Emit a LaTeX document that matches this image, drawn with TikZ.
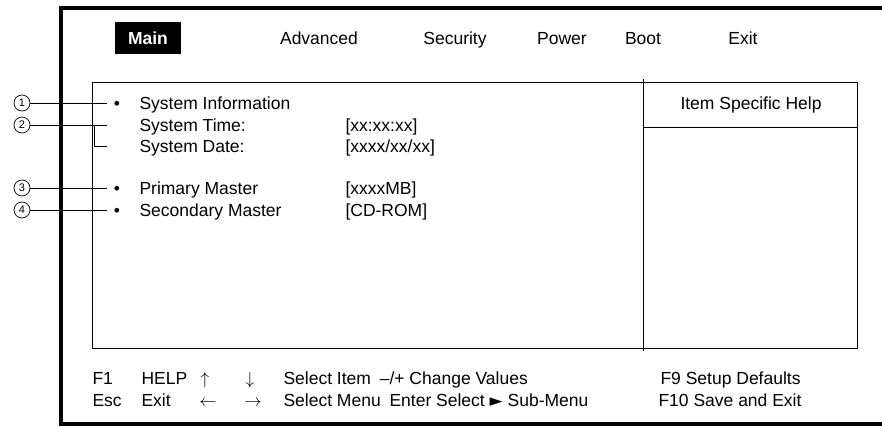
\documentclass[tikz,border=0pt]{standalone}
\usepackage{fontspec}
\setmainfont{Liberation Sans}
\newfontfamily\symfont{DejaVu Sans}

\begin{document}
\begin{tikzpicture}[x=1pt,y=-1pt,-,thick,line width=1pt,
  txt/.style={anchor=base west,inner sep=0pt,font=\fontsize{17.5}{20}\selectfont},
  ctxt/.style={anchor=base,inner sep=0pt,font=\fontsize{17.5}{20}\selectfont},
  num node/.style={circle,draw,line width=0.7pt,inner sep=0pt,minimum size=16pt,font=\fontsize{11}{11}\selectfont}]

    \useasboundingbox (0,0) rectangle (882,426);

    % frame and windows
    \draw[line width=3.2pt] (882,8) -- (61,8) -- (61,424) -- (882,424);
    \draw (92,82) rectangle (857,348);
    \draw (643,79) -- (643,351);
    \draw (643,127) -- (857,127);

    % menu bar
    \node[fill=black,minimum width=66pt,minimum height=32pt,inner sep=0pt] (main) at (148,38) {};
    \node[ctxt,text=white,font=\fontsize{17.5}{20}\selectfont\bfseries] (mainlbl) at (148,44) {Main};
    \node[ctxt] (adv) at (319,44) {Advanced};
    \node[ctxt] (sec) at (455,44) {Security};
    \node[ctxt] (pow) at (562,44) {Power};
    \node[ctxt] (boot) at (643,44) {Boot};
    \node[ctxt] (exit) at (743,44) {Exit};

    % items
    \node[ctxt] (b1) at (117,109) {•};
    \node[txt] (sysinfo) at (139,109) {System Information};
    \node[txt] (systime) at (139,131) {System Time:};
    \node[txt] (sysdate) at (139,152) {System Date:};
    \node[ctxt] (b3) at (117,194) {•};
    \node[txt] (prim) at (139,194) {Primary Master};
    \node[ctxt] (b4) at (117,216) {•};
    \node[txt] (secm) at (139,216) {Secondary Master};

    \node[txt] (vtime) at (345,131) {[xx:xx:xx]};
    \node[txt] (vdate) at (345,152) {[xxxx/xx/xx]};
    \node[txt] (vprim) at (345,194) {[xxxxMB]};
    \node[txt] (vsec) at (345,216) {[CD-ROM]};

    \node[ctxt] (help) at (751,109) {Item Specific Help};

    % callouts
    \node[num node] (1) at (22,103) {1};
    \node[num node] (2) at (22,125) {2};
    \node[num node] (3) at (22,188) {3};
    \node[num node] (4) at (22,210) {4};
    \coordinate (t1) at (107,103);
    \coordinate (t2) at (107,125);
    \coordinate (t2b) at (94,125);
    \coordinate (t2c) at (107,146);
    \coordinate (t3) at (107,188);
    \coordinate (t4) at (107,210);
    \draw[-] (1) to (t1);
    \draw[-] (2) to (t2);
    \draw[-] (t2b) |- (t2c);
    \draw[-] (3) to (t3);
    \draw[-] (4) to (t4);

    % key line
    \node[txt] (f1) at (92,384) {F1};
    \node[txt] (hlp) at (141,384) {HELP};
    \node[ctxt] (up) at (205,384) {$\uparrow$};
    \node[ctxt] (down) at (250,384) {$\downarrow$};
    \node[txt] (selitem) at (283,384) {Select Item\enspace–/+ Change Values};
    \node[txt] (esc) at (92,406) {Esc};
    \node[txt] (ex) at (141,406) {Exit};
    \node[ctxt] (left) at (208,406) {$\leftarrow$};
    \node[ctxt] (right) at (253,406) {$\rightarrow$};
    \node[txt] (selmenu) at (283,406) {Select Menu\enspace Enter Select {\symfont\fontsize{17}{17}\selectfont ►} Sub-Menu};
    \node[txt] (f9) at (660,384) {F9 Setup Defaults};
    \node[txt] (f10) at (658,406) {F10 Save and Exit};

\end{tikzpicture}
\end{document}
